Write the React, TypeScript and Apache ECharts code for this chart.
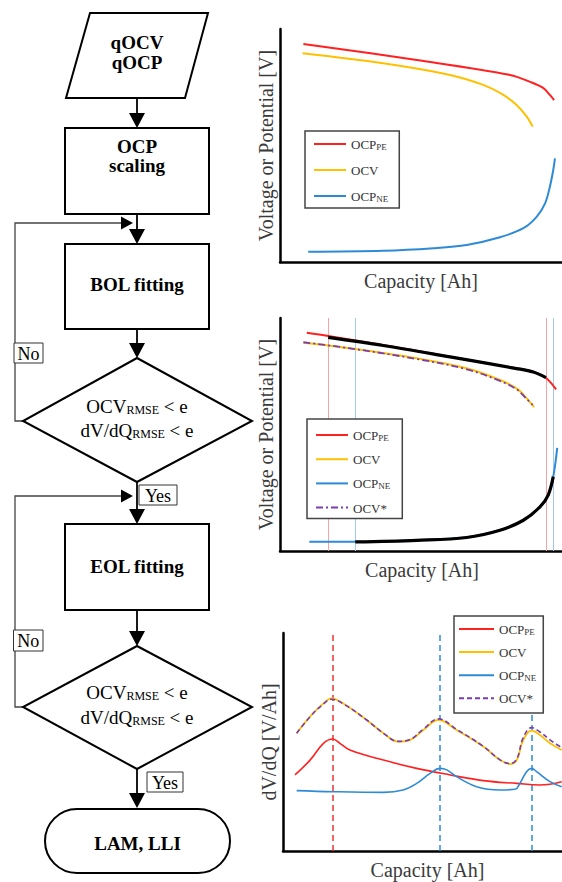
import React, { useEffect, useRef } from "react";
import * as echarts from "echarts";

const FONT = "Liberation Serif, Times New Roman, serif";

// ---------- Chart 1 (BOL inputs) ----------
const pe1 = [[8.3, 93.6], [48.5, 86.7], [81.6, 80.3], [88.7, 77.3], [93.3, 74.7], [95.7, 71.7], [97.2, 69.5]];
const ocv1 = [[8.0, 89.6], [36.6, 85.3], [60.3, 80.3], [72.1, 76.0], [79.2, 71.7], [83.9, 67.4], [87.5, 62.4], [89.6, 58.1]];
const ne1 = [[10.0, 4.4], [36.6, 4.8], [54.4, 5.9], [66.2, 7.3], [78.0, 10.6], [86.3, 14.5], [91.0, 19.4], [94.0, 25.2], [95.7, 32.3], [96.9, 39.5], [97.5, 44.5]];

// ---------- Chart 2 (fitted) ----------
const pe2 = [[9.5, 93.7], [17.1, 92.3], [36.6, 88.4], [60.3, 83.4], [83.9, 78.4], [89.8, 77.0], [93.4, 75.1], [95.7, 72.7], [97.9, 69.4]];
const ocv2 = [[8.3, 89.4], [24.8, 87.0], [48.5, 82.7], [66.2, 78.4], [78.0, 73.4], [83.9, 69.8], [87.5, 65.5], [90.1, 61.7]];
const ne2 = [[10.4, 4.0], [26.7, 4.0], [48.5, 4.7], [66.2, 5.9], [78.0, 9.0], [86.3, 13.3], [92.2, 19.0], [95.1, 24.0], [96.9, 31.9], [98.3, 44.3]];
const star2 = [[8.3, 89.6], [24.8, 87.0], [48.5, 82.4], [66.2, 78.0], [78.0, 73.0], [83.9, 69.4], [87.5, 65.2], [89.6, 62.7]];
const fitPe2 = [[17.1, 91.7], [36.6, 88.2], [60.3, 83.3], [83.9, 78.3], [89.8, 76.8], [94.3, 74.4]];
const fitNe2 = [[26.7, 3.9], [48.5, 4.6], [66.2, 5.8], [78.0, 8.9], [86.3, 13.2], [92.2, 18.9], [95.1, 24.0], [96.9, 31.9]];
const peMarks2 = [17.1, 94.3];
const neMarks2 = [26.7, 96.9];

// ---------- Chart 3 (dV/dQ) ----------
const ocv3 = [[4.9, 54.0], [9.7, 61.6], [14.5, 67.7], [17.4, 70.0], [21.6, 67.7], [30.0, 60.1], [36.0, 54.0], [41.3, 50.2], [45.5, 50.9], [50.3, 55.5], [55.7, 60.1], [62.2, 55.5], [71.8, 47.9], [77.8, 41.7], [81.4, 39.9], [83.8, 41.7], [86.1, 50.9], [89.1, 55.2], [92.1, 53.2], [95.7, 49.4], [99.9, 46.3]];
const star3 = [[4.9, 54.0], [9.7, 61.6], [14.5, 67.5], [17.4, 69.6], [21.6, 67.5], [30.0, 60.1], [36.0, 54.0], [41.3, 50.3], [45.5, 51.1], [50.3, 55.9], [55.7, 60.6], [62.2, 55.8], [71.8, 48.0], [77.8, 41.8], [81.4, 40.1], [83.8, 42.2], [86.1, 52.0], [89.1, 56.6], [92.1, 54.6], [95.7, 51.0], [99.9, 47.4]];
const pe3 = [[4.3, 34.9], [9.7, 41.7], [14.5, 49.4], [17.8, 51.4], [20.4, 49.4], [24.0, 46.3], [36.0, 41.7], [47.9, 37.9], [59.9, 34.9], [71.8, 32.3], [83.8, 31.0], [92.1, 30.3], [99.9, 31.8]];
const ne3 = [[4.9, 27.7], [18.0, 27.2], [36.0, 26.9], [43.1, 28.0], [47.9, 31.0], [52.7, 35.6], [56.3, 37.9], [58.7, 37.2], [62.2, 34.1], [69.4, 29.5], [77.8, 28.0], [83.2, 28.3], [84.9, 31.0], [87.3, 36.4], [89.1, 37.9], [90.9, 36.4], [95.7, 31.8], [99.9, 29.5]];
const peMarks3 = [18.0];
const neMarks3 = [56.3, 89.1];

// ---------- Texts ----------
const legendLabels: Record<string, string> = {
  pe1: "{m|OCP}{s|PE}", ocv1: "{m|OCV}", ne1: "{m|OCP}{s|NE}",
  pe2: "{m|OCP}{s|PE}", ocv2: "{m|OCV}", ne2: "{m|OCP}{s|NE}", star2: "{m|OCV*}",
  pe3: "{m|OCP}{s|PE}", ocv3: "{m|OCV}", ne3: "{m|OCP}{s|NE}", star3: "{m|OCV*}",
};
const voltName = "Voltage or Potential [V]";
const dvdqName = "dV/dQ [V/Ah]";
const capName = "Capacity [Ah]";

const RED = "#ff2020";
const YEL = "#ffc000";
const BLU = "#2e8ad6";
const PUR = "#7a3cb0";

function buildOption() {
  const nameStyle = { fontFamily: FONT, fontSize: 20, color: "#3a3a3a" };
  const axLine = { show: true, onZero: false, lineStyle: { color: "#000", width: 2.5 } };
  const xAx = (i: number, pad: number) => ({
    type: "value", gridIndex: i, min: 0, max: 100,
    axisLine: axLine, axisTick: { show: false }, axisLabel: { show: false }, splitLine: { show: false },
    name: capName, nameLocation: "middle", nameGap: 9,
    nameTextStyle: { ...nameStyle, padding: [0, 0, 0, pad] },
  });
  const yAx = (i: number, name: string, gap: number) => ({
    type: "value", gridIndex: i, min: 0, max: 100,
    axisLine: axLine, axisTick: { show: false }, axisLabel: { show: false }, splitLine: { show: false },
    name, nameLocation: "middle", nameGap: gap, nameTextStyle: nameStyle,
  });
  const ser = (name: string, data: number[][], g: number, color: string, width: number, extra: any = {}) => ({
    type: "line", name, data, xAxisIndex: g, yAxisIndex: g, symbol: "none", showSymbol: false,
    smooth: 0.35, color,
    lineStyle: { color, width, ...(extra.lineStyle || {}) }, itemStyle: { color },
    ...(extra.rest || {}),
  });
  const marks = (vals: number[], color: string, type: any, width: number) => ({
    silent: true, symbol: "none", z: 1, label: { show: false },
    lineStyle: { color, type, width },
    data: vals.map((v) => ({ xAxis: v })),
  });
  const legendBase = (data: string[], left: number, top: number, padding: number[], itemWidth: number, itemGap: number) => ({
    data, orient: "vertical", left, top, padding, itemWidth, itemHeight: 14, itemGap,
    borderColor: "#444", borderWidth: 1.5, backgroundColor: "#fff", selectedMode: false,
    itemStyle: { opacity: 0 },
    formatter: (n: string) => legendLabels[n],
    textStyle: {
      fontFamily: FONT, fontSize: 13, color: "#333",
      rich: {
        m: { fontFamily: FONT, fontSize: 13, color: "#333", lineHeight: 14, verticalAlign: "bottom" },
        s: { fontFamily: FONT, fontSize: 9, color: "#333", lineHeight: 9, verticalAlign: "bottom" },
      },
    },
  });

  // ---------- Flowchart ----------
  const bold = `bold 19px ${FONT}`;
  const reg = `19px ${FONT}`;
  const txt = (x: number, y: number, text: string, font: string, rich?: any) => ({
    type: "text", x, y, silent: true, z: 20,
    style: { text, font, fill: "#000", align: "center", verticalAlign: "middle", textAlign: "center", textVerticalAlign: "middle", rich },
  });
  const pl = (points: number[][], stroke = "#000", lineWidth = 1.8) => ({
    type: "polyline", silent: true, z: 10, shape: { points }, style: { stroke, lineWidth, fill: null },
  });
  const tri = (points: number[][]) => ({ type: "polygon", silent: true, z: 11, shape: { points }, style: { fill: "#000" } });
  const box = (x: number, y: number, w: number, h: number, r = 0, lw = 2, stroke = "#000") => ({
    type: "rect", silent: true, z: 12, shape: { x, y, width: w, height: h, r }, style: { fill: "#fff", stroke, lineWidth: lw },
  });
  const poly = (points: number[][]) => ({ type: "polygon", silent: true, z: 12, shape: { points }, style: { fill: "#fff", stroke: "#000", lineWidth: 2 } });
  const downArrow = (y0: number, y1: number) => [pl([[137, y0], [137, y1 - 14]]), tri([[129, y1 - 15], [145, y1 - 15], [137, y1]])];
  const rightArrow = (y: number) => tri([[121, y - 6.5], [121, y + 6.5], [133, y]]);
  const condRich = {
    m: { fontFamily: FONT, fontSize: 19, lineHeight: 22, verticalAlign: "bottom", fill: "#000", color: "#000" },
    s: { fontFamily: FONT, fontSize: 12, lineHeight: 12, verticalAlign: "bottom", fill: "#000", color: "#000" },
  };
  const label = (x: number, y: number, w: number, h: number, t: string) => [
    { ...box(x, y, w, h, 0, 1, "#333"), z: 15 },
    { ...txt(x + w / 2, y + h / 2 + 0.5, t, `18px ${FONT}`), z: 21 },
  ];

  const graphic: any[] = [
    poly([[90, 13], [208, 13], [185, 98], [66, 98]]),
    txt(137, 42, "qOCV", bold),
    txt(137, 62, "qOCP", bold),
    ...downArrow(98, 128),
    box(65, 128, 144, 86),
    txt(137, 146, "OCP", bold),
    txt(137, 165, "scaling", bold),
    ...downArrow(214, 244),
    pl([[23, 421], [15, 421], [15, 223], [121, 223]], "#444", 1.3),
    rightArrow(223),
    box(65, 244, 144, 85),
    txt(137, 284, "BOL fitting", bold),
    ...downArrow(329, 358),
    poly([[137, 358], [252, 421], [137, 482], [23, 421]]),
    txt(137, 405, "{m|OCV}{s|RMSE}{m| < e}", reg, condRich),
    txt(137, 429, "{m|dV/dQ}{s|RMSE}{m| < e}", reg, condRich),
    ...label(14, 343, 29, 20, "No"),
    ...downArrow(482, 524),
    pl([[23, 707], [15, 707], [15, 496], [121, 496]], "#444", 1.3),
    rightArrow(496),
    ...label(139, 485, 38, 20, "Yes"),
    box(65, 524, 144, 86),
    txt(137, 566, "EOL fitting", bold),
    ...downArrow(610, 646),
    poly([[137, 646], [252, 707], [137, 769], [23, 707]]),
    txt(137, 691, "{m|OCV}{s|RMSE}{m| < e}", reg, condRich),
    txt(137, 716, "{m|dV/dQ}{s|RMSE}{m| < e}", reg, condRich),
    ...label(13.5, 630, 29.5, 21, "No"),
    ...downArrow(769, 808),
    ...label(147, 772, 36, 20, "Yes"),
    box(45, 809, 185, 64, 32),
    txt(137.5, 843, "LAM, LLI", bold),
  ];

  return {
    animation: false,
    backgroundColor: "#fff",
    textStyle: { fontFamily: FONT },
    grid: [
      { left: 280, top: 29, width: 282, height: 233 },
      { left: 280, top: 318, width: 282, height: 233 },
      { left: 283, top: 633, width: 279, height: 218 },
    ],
    xAxis: [xAx(0, 0), xAx(1, 2), xAx(2, 10)],
    yAxis: [yAx(0, voltName, 4), yAx(1, voltName, 4), yAx(2, dvdqName, 4)],
    legend: [
      legendBase(["pe1", "ocv1", "ne1"], 305, 131, [7, 11, 5, 8], 32, 13),
      legendBase(["pe2", "ocv2", "ne2", "star2"], 307, 419, [10, 12, 4, 8], 32, 11.2),
      legendBase(["pe3", "ocv3", "ne3", "star3"], 454, 616, [7, 7, 7.7, 4], 35, 10.1),
    ],
    series: [
      ser("pe1", pe1, 0, RED, 2),
      ser("ocv1", ocv1, 0, YEL, 2),
      ser("ne1", ne1, 0, BLU, 2),

      ser("pe2", pe2, 1, RED, 2, { rest: { markLine: marks(peMarks2, "#f6a3a3", "solid", 1) } }),
      ser("ocv2", ocv2, 1, YEL, 2),
      ser("ne2", ne2, 1, BLU, 2, { rest: { markLine: marks(neMarks2, "#a3c9ea", "solid", 1) } }),
      ser("star2", star2, 1, PUR, 1.8, { lineStyle: { type: [7, 3, 2, 3] } }),
      ser("fitPe2", fitPe2, 1, "#000", 3.2),
      ser("fitNe2", fitNe2, 1, "#000", 3.2),

      ser("pe3", pe3, 2, RED, 1.6, { rest: { smooth: 0.4, markLine: marks(peMarks3, "#f03030", [6, 4], 1.5) } }),
      ser("ocv3", ocv3, 2, YEL, 1.8, { rest: { smooth: 0.4 } }),
      ser("ne3", ne3, 2, BLU, 1.6, { rest: { smooth: 0.4, markLine: marks(neMarks3, "#2e8ad6", [6, 4], 1.5) } }),
      ser("star3", star3, 2, PUR, 1.6, { lineStyle: { type: [5, 3] }, rest: { smooth: 0.4 } }),
    ],
    graphic,
  };
}

export default function App() {
  const ref = useRef<HTMLDivElement>(null);
  useEffect(() => {
    if (!ref.current) return;
    const chart = echarts.init(ref.current, undefined, { renderer: "svg" });
    chart.setOption(buildOption() as any);
    return () => chart.dispose();
  }, []);
  return (
    <div
      ref={ref}
      style={{ position: "fixed", left: 0, top: 0, width: 562, height: 882, background: "#fff" }}
    />
  );
}
